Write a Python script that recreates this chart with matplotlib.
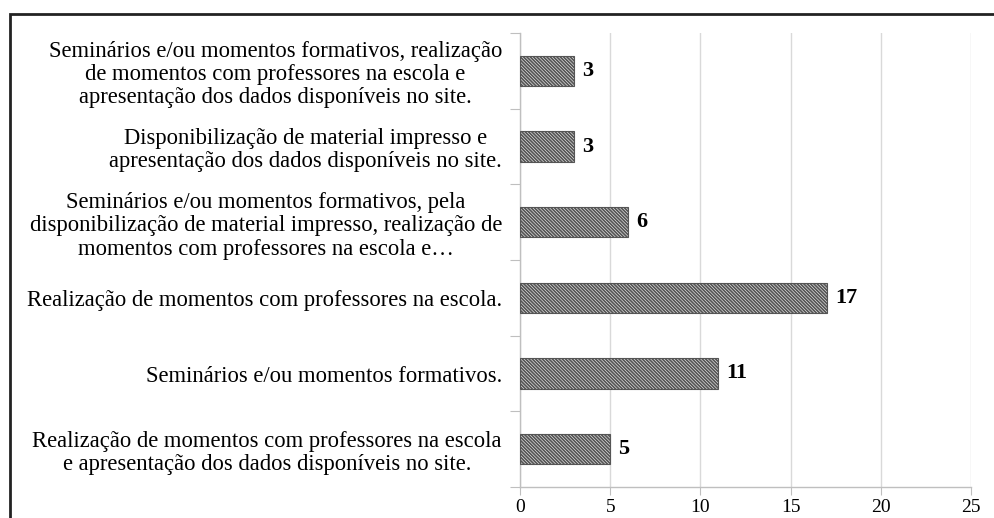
import matplotlib.pyplot as plt
from matplotlib.patches import Rectangle

categories = [
    "Seminários e/ou momentos formativos, realização\nde momentos com professores na escola e\napresentação dos dados disponíveis no site.",
    "Disponibilização de material impresso e\napresentação dos dados disponíveis no site.",
    "Seminários e/ou momentos formativos, pela\ndisponibilização de material impresso, realização de\nmomentos com professores na escola e…",
    "Realização de momentos com professores na escola.",
    "Seminários e/ou momentos formativos.",
    "Realização de momentos com professores na escola\ne apresentação dos dados disponíveis no site.",
]
values = [3, 3, 6, 17, 11, 5]
xticks = [0, 5, 10, 15, 20, 25]

plt.rcParams['font.family'] = ['Liberation Serif', 'DejaVu Serif']
plt.rcParams['hatch.linewidth'] = 1.3
plt.rcParams['hatch.color'] = '#333333'

fig = plt.figure(figsize=(9.94, 5.18), dpi=100)
ax = fig.add_axes([520 / 994, 1 - 487 / 518, 451 / 994, 454 / 518])

n = len(categories)
pos = list(range(n))
ax.barh(pos, values, height=0.4, color='white', edgecolor='#555555',
        hatch='\\' * 10, linewidth=0.8, zorder=3)
for p, v in zip(pos, values):
    ax.text(v + 0.45, p, str(v), va='center', ha='left', fontsize=16,
            fontweight='bold', zorder=4)

ax.set_ylim(n - 0.5, -0.5)
ax.set_xlim(0, 25)
ax.set_xticks(xticks)
ax.set_xticklabels([str(t) for t in xticks], fontsize=14)
ax.tick_params(axis='x', length=6, color='#bfbfbf', pad=3)

# category boundaries get tick marks, centers get labels
ax.set_yticks([i - 0.5 for i in range(n + 1)])
ax.set_yticklabels([])
ax.tick_params(axis='y', which='major', length=7, color='#bfbfbf')
ax.set_yticks(pos, minor=True)
ax.set_yticklabels(categories, minor=True, fontsize=16.3)
ax.tick_params(axis='y', which='minor', length=0, pad=13)
for lab in ax.get_yticklabels(minor=True):
    lab.set_multialignment('center')
    lab.set_linespacing(1.15)

ax.grid(axis='x', color='#d9d9d9', linewidth=1, zorder=0)
for s in ['top', 'right']:
    ax.spines[s].set_visible(False)
for s in ['left', 'bottom']:
    ax.spines[s].set_color('#bfbfbf')
    ax.spines[s].set_linewidth(1)

# outer frame
fig.patches.append(Rectangle((10 / 994, -0.2), 1.2, 1.2 - 14 / 518,
                             transform=fig.transFigure, fill=False,
                             edgecolor='#222222', linewidth=2))

fig.savefig('out.png', dpi=100)
